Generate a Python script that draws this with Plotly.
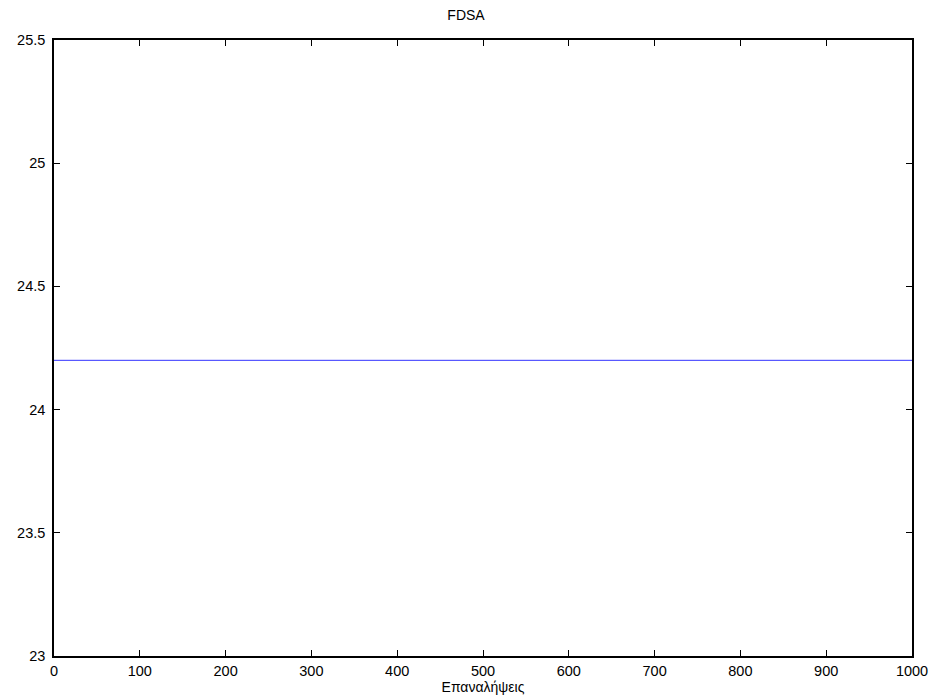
import plotly.graph_objects as go

iterations = [0, 1000]
values = [24.2, 24.2]
x_ticks = [0, 100, 200, 300, 400, 500, 600, 700, 800, 900, 1000]
y_ticks = [23, 23.5, 24, 24.5, 25, 25.5]

FONT = "Liberation Sans, Arial"

fig = go.Figure()
fig.add_trace(go.Scatter(x=iterations, y=values, mode="lines",
                         line=dict(color="#3333ff", width=1), showlegend=False))

axis_common = dict(showline=True, linecolor="black", linewidth=1.5, mirror="ticks",
                   ticks="inside", ticklen=6, tickcolor="black", tickwidth=1,
                   showgrid=False, zeroline=False, automargin=False,
                   tickfont=dict(family=FONT, size=14.5, color="black"))

fig.update_layout(
    width=932, height=699,
    paper_bgcolor="white", plot_bgcolor="white",
    margin=dict(l=54, r=20, t=40, b=43, autoexpand=False),
    title=dict(text="FDSA", x=0.5, xanchor="center", y=1 - 15 / 699, yanchor="middle",
               font=dict(family=FONT, size=14, color="black")),
    xaxis=dict(range=[0, 1000], tickvals=x_ticks, ticktext=[str(v) for v in x_ticks],
               ticklabelstandoff=1,
               title=dict(text="Επαναλήψεις", standoff=2,
                          font=dict(family=FONT, size=14, color="black")),
               **axis_common),
    yaxis=dict(range=[23, 25.5], tickvals=y_ticks, ticktext=[("%g" % v) for v in y_ticks],
               ticklabelstandoff=4,
               **axis_common),
)

fig.write_html("out.html")
